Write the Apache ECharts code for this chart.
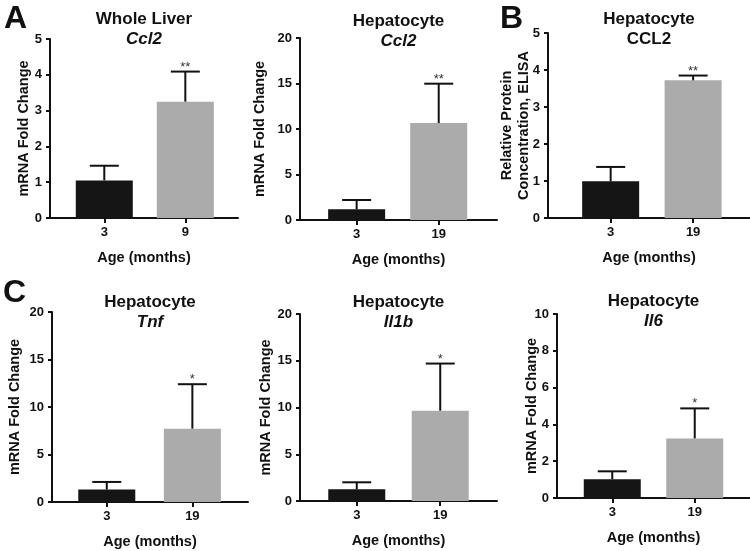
<!DOCTYPE html>
<html>
<head>
<meta charset="utf-8">
<script src="https://cdn.jsdelivr.net/npm/echarts@6/dist/echarts.min.js"></script>
<style>
  html, body { margin: 0; padding: 0; background: #fff; }
  #main { width: 750px; height: 551px; }
</style>
</head>
<body>
<div id="main"></div>
<script>
// data
var panelTitles = ['Whole Liver', 'Hepatocyte', 'Hepatocyte', 'Hepatocyte', 'Hepatocyte', 'Hepatocyte'];
var panelGenes = ['Ccl2', 'Ccl2', 'CCL2', 'Tnf', 'Il1b', 'Il6'];
var geneItalic = [true, true, false, true, true, true];
var ageLabels = [['3', '9'], ['3', '19'], ['3', '19'], ['3', '19'], ['3', '19'], ['3', '19']];
var yMax = [5, 20, 5, 20, 20, 10];
var yStep = [1, 5, 1, 5, 5, 2];
var yNames = ['mRNA Fold Change', 'mRNA Fold Change', 'Relative Protein\nConcentration, ELISA',
  'mRNA Fold Change', 'mRNA Fold Change', 'mRNA Fold Change'];
var youngMean = [1.05, 1.17, 0.99, 1.31, 1.25, 1.02];
var oldMean = [3.25, 10.65, 3.72, 7.72, 9.66, 3.24];
var youngErrTop = [1.46, 2.2, 1.38, 2.11, 2.0, 1.45];
var oldErrTop = [4.09, 14.98, 3.85, 12.4, 14.7, 4.87];
var stars = ['**', '**', '**', '*', '*', '*'];

var FONT = '"Liberation Sans", Arial, Helvetica, sans-serif';

// layout of each small plot (pixels)
var boxes = [
  {left: 50, top: 39, width: 188, height: 179, xMin: -0.67, xMax: 1.65, titleTop: 9, yGap: 18},
  {left: 300, top: 38, width: 197, height: 182, xMin: -0.69, xMax: 1.71, titleTop: 11, yGap: 32},
  {left: 548, top: 33, width: 202, height: 185, xMin: -0.76, xMax: 1.69, titleTop: 9, yGap: 16},
  {left: 52, top: 312, width: 196, height: 190, xMin: -0.64, xMax: 1.65, titleTop: 292, yGap: 29},
  {left: 300, top: 314, width: 197, height: 187, xMin: -0.68, xMax: 1.68, titleTop: 292, yGap: 26},
  {left: 557, top: 314, width: 193, height: 184, xMin: -0.67, xMax: 1.67, titleTop: 291, yGap: 17}
];

var chart = echarts.init(document.getElementById('main'));

var grid = [], xAxis = [], yAxis = [], series = [], title = [];

boxes.forEach(function (b, i) {
  grid.push({left: b.left, top: b.top, width: b.width, height: b.height});

  title.push({
    text: '{t|' + panelTitles[i] + '}\n{' + (geneItalic[i] ? 'g' : 't') + '|' + panelGenes[i] + '}',
    left: b.left + b.width / 2,
    top: b.titleTop,
    textAlign: 'center',
    padding: 0,
    textStyle: {
      rich: {
        t: {fontFamily: FONT, fontSize: 17, fontWeight: 'bold', color: '#111', lineHeight: 20, align: 'center'},
        g: {fontFamily: FONT, fontSize: 17, fontWeight: 'bold', fontStyle: 'italic', color: '#111', lineHeight: 20, align: 'center'}
      }
    }
  });

  var labels = ageLabels[i];
  xAxis.push({
    gridIndex: i,
    type: 'value',
    min: b.xMin,
    max: b.xMax,
    name: 'Age (months)',
    nameLocation: 'middle',
    nameGap: 32,
    nameMoveOverlap: false,
    nameTextStyle: {fontFamily: FONT, fontSize: 14.5, fontWeight: 'bold', color: '#111'},
    axisLine: {show: true, onZero: false, lineStyle: {color: '#111', width: 2}},
    axisTick: {show: true, length: 5, lineStyle: {color: '#111', width: 2}, customValues: [0, 1]},
    axisLabel: {
      customValues: [0, 1],
      margin: 8,
      fontFamily: FONT, fontSize: 13, fontWeight: 'bold', color: '#111',
      formatter: function (v) { return labels[Math.round(v)]; }
    },
    splitLine: {show: false}
  });

  yAxis.push({
    gridIndex: i,
    type: 'value',
    min: 0,
    max: yMax[i],
    interval: yStep[i],
    name: yNames[i],
    nameLocation: 'middle',
    nameGap: b.yGap,
    nameMoveOverlap: false,
    nameTextStyle: {fontFamily: FONT, fontSize: 14.5, fontWeight: 'bold', color: '#111', lineHeight: 17},
    axisLine: {show: true, onZero: false, lineStyle: {color: '#111', width: 2}},
    axisTick: {show: true, length: 4, lineStyle: {color: '#111', width: 2}},
    axisLabel: {margin: 8, fontFamily: FONT, fontSize: 13, fontWeight: 'bold', color: '#111'},
    splitLine: {show: false}
  });

  series.push({
    type: 'bar',
    xAxisIndex: i,
    yAxisIndex: i,
    barWidth: 57,
    data: [
      {value: [0, youngMean[i]], itemStyle: {color: '#151515'}},
      {value: [1, oldMean[i]], itemStyle: {color: '#ababab'}}
    ],
    z: 2
  });

  series.push({
    type: 'custom',
    xAxisIndex: i,
    yAxisIndex: i,
    z: 3,
    data: [[0, youngMean[i], youngErrTop[i]], [1, oldMean[i], oldErrTop[i]]],
    renderItem: function (params, api) {
      var base = api.coord([api.value(0), api.value(1)]);
      var top = api.coord([api.value(0), api.value(2)]);
      var half = 14.5;
      var star = params.dataIndex === 1 ? stars[i] : '';
      return {
        type: 'group',
        children: [
          {type: 'line', shape: {x1: base[0], y1: base[1], x2: top[0], y2: top[1]},
            style: {stroke: '#111', lineWidth: 2}},
          {type: 'line', shape: {x1: top[0] - half, y1: top[1], x2: top[0] + half, y2: top[1]},
            style: {stroke: '#111', lineWidth: 2}},
          {type: 'text', x: top[0], y: top[1] + 2,
            style: {text: star, align: 'center', verticalAlign: 'bottom',
              font: '13px ' + FONT, fill: '#333'}}
        ]
      };
    }
  });
});

var option = {
  backgroundColor: '#fff',
  animation: false,
  title: title,
  grid: grid,
  xAxis: xAxis,
  yAxis: yAxis,
  series: series,
  graphic: [
    {type: 'text', left: 4, top: 3, style: {text: 'A', font: 'bold 32px ' + FONT, fill: '#111'}},
    {type: 'text', left: 500, top: 3, style: {text: 'B', font: 'bold 32px ' + FONT, fill: '#111'}},
    {type: 'text', left: 3, top: 277, style: {text: 'C', font: 'bold 32px ' + FONT, fill: '#111'}}
  ]
};

chart.setOption(option);
</script>
</body>
</html>
